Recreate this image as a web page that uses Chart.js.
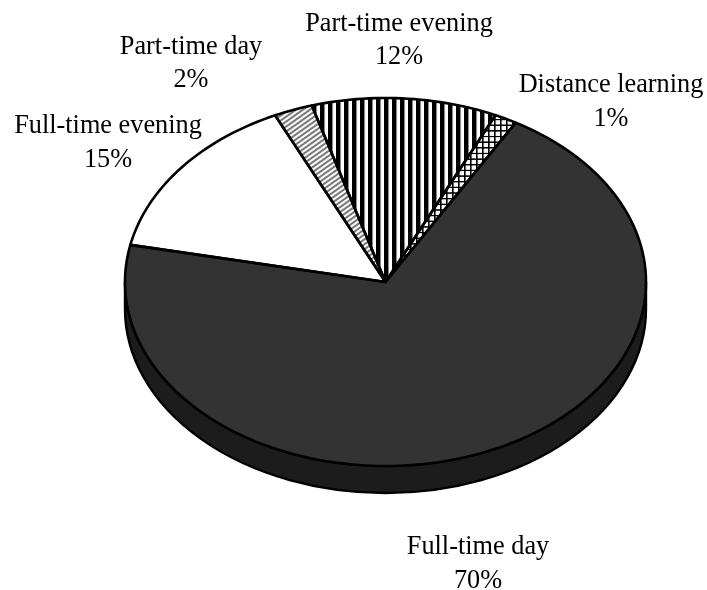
<!DOCTYPE html>
<html><head><meta charset="utf-8">
<script src="https://cdn.jsdelivr.net/npm/chart.js@4"></script>
<style>html,body{margin:0;padding:0;background:#fff}#w{position:relative;width:707px;height:590px}</style>
</head><body><div id="w"><canvas id="c" width="707" height="590"></canvas></div>
<script>
const categories = ['Full-time day','Full-time evening','Part-time day','Part-time evening','Distance learning'];
const shares = [69.9,14.8,2.4,11.5,1.4];
const shareLabels = ['70%','15%','2%','12%','1%'];
const firstSliceAngle = 30;

const SQUASH = 184/260.5, DEPTH = 27, CX = 385.5, CY = 282, RX = 260.5;
const labelAnchors = [[478,554],[108,133],[191,53.5],[399,30.5],[611,92]];

function tile(w,h,draw){
  const t=document.createElement('canvas');t.width=w;t.height=h;
  const g=t.getContext('2d');g.fillStyle='#fff';g.fillRect(0,0,w,h);draw(g);
  return document.createElement('canvas').getContext('2d').createPattern(t,'repeat');
}
const stripes=tile(8,4,g=>{g.fillStyle='#000';g.fillRect(0,0,4,4);g.fillStyle='#888';g.fillRect(4,0,1,4);});
const hatch=tile(7,7,g=>{g.strokeStyle='#777';g.lineWidth=2.5;
  g.beginPath();g.moveTo(-2,2);g.lineTo(2,-2);g.moveTo(-1,8);g.lineTo(8,-1);g.moveTo(5,9);g.lineTo(9,5);g.stroke();});
const cross=tile(6,8,g=>{g.fillStyle='#000';g.fillRect(0,0,6,2);g.fillRect(0,0,1.6,8);});
const fills=['#333333','#ffffff',hatch,stripes,cross];

const squashPlugin={
  id:'squash',
  beforeDatasetsDraw(chart){
    const ctx=chart.ctx,arcs=chart.getDatasetMeta(0).data;
    ctx.save();
    ctx.beginPath();
    ctx.ellipse(CX,CY+DEPTH,RX,RX*SQUASH,0,0,Math.PI);
    ctx.lineTo(CX-RX,CY);
    ctx.ellipse(CX,CY,RX,RX*SQUASH,0,Math.PI,0,true);
    ctx.closePath();
    ctx.fillStyle='#1c1c1c';ctx.fill();
    ctx.lineWidth=2.4;ctx.strokeStyle='#000';ctx.stroke();
    ctx.restore();
    ctx.save();
    ctx.translate(CX,CY);ctx.scale(1,SQUASH);ctx.translate(-arcs[0].x,-arcs[0].y);
  },
  afterDatasetsDraw(chart){
    const ctx=chart.ctx,arcs=chart.getDatasetMeta(0).data;
    ctx.restore();
    ctx.save();
    ctx.lineWidth=2.6;ctx.strokeStyle='#000';ctx.lineJoin='round';
    arcs.forEach(a=>{
      ctx.beginPath();
      ctx.moveTo(CX,CY);
      const n=Math.max(8,Math.ceil((a.endAngle-a.startAngle)*40));
      for(let i=0;i<=n;i++){
        const t=a.startAngle+(a.endAngle-a.startAngle)*i/n;
        ctx.lineTo(CX+RX*Math.cos(t),CY+RX*SQUASH*Math.sin(t));
      }
      ctx.closePath();ctx.stroke();
    });
    ctx.fillStyle='#000';ctx.font='26.3px "Liberation Serif"';ctx.textAlign='center';ctx.textBaseline='alphabetic';
    categories.forEach((c,i)=>{
      const [x,y]=labelAnchors[i];
      ctx.fillText(c,x,y);ctx.fillText(shareLabels[i],x,y+33.5);
    });
    ctx.restore();
  }
};

new Chart(document.getElementById('c'),{
  type:'pie',
  data:{labels:categories,datasets:[{data:shares,backgroundColor:fills,borderWidth:0,radius:RX,hoverOffset:0}]},
  options:{responsive:false,animation:false,rotation:firstSliceAngle,
    layout:{padding:0},
    plugins:{legend:{display:false},title:{display:false},tooltip:{enabled:false}}},
  plugins:[squashPlugin]
});
</script></body></html>
